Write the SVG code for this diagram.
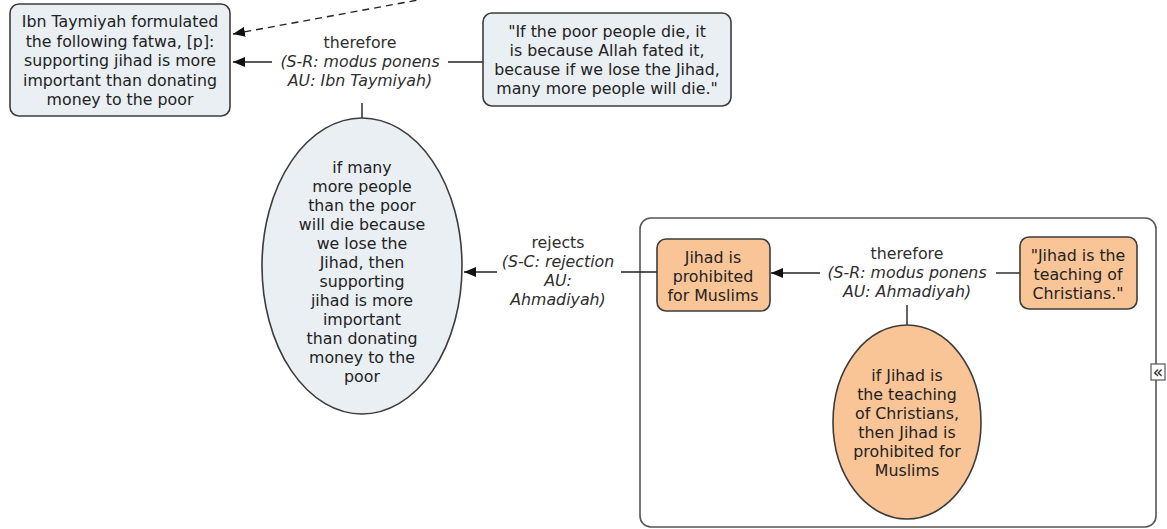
<svg xmlns="http://www.w3.org/2000/svg" width="1167" height="529" viewBox="0 0 1167 529">
  <style>
    text { font-family: "DejaVu Sans", Verdana, sans-serif; font-size: 15.8px; fill: #222222; text-anchor: middle; }
    .lbl { fill: #2e2e2e; }
    .it { font-style: italic; }
    .blue { fill: #e9eff3; stroke: #3c3c3c; stroke-width: 1.6; }
    .orange { fill: #f9c597; stroke: #3c3c3c; stroke-width: 1.6; }
    .frame { fill: #ffffff; stroke: #555555; stroke-width: 1.6; }
    .link { fill: none; stroke: #222222; stroke-width: 1.4; }
    .dash { stroke-dasharray: 7 5; }
  </style>
  <defs>
    <marker id="head" viewBox="0 0 12 10" refX="12" refY="5" markerWidth="12" markerHeight="10" markerUnits="userSpaceOnUse" orient="auto">
      <path d="M0,0 L12,5 L0,10 Z" fill="#111111"/>
    </marker>
  </defs>

  <rect width="1167" height="529" fill="#ffffff"/>

  <!-- group container -->
  <g id="group-ahmadiyah">
    <rect class="frame" x="640" y="218" width="516" height="309" rx="11"/>
    <rect x="1151" y="364" width="14" height="16" fill="#ffffff" stroke="#555555" stroke-width="1.2"/>
    <text x="1158" y="378" style="font-size:17px; fill:#222222">«</text>
  </g>

  <!-- connectors -->
  <g id="connectors">
    <line class="link dash" x1="440" y1="-4" x2="233" y2="34" marker-end="url(#head)"/>
    <line class="link" x1="272" y1="62" x2="233" y2="62" marker-end="url(#head)"/>
    <line class="link" x1="448" y1="62" x2="483" y2="62"/>
    <line class="link" x1="362" y1="103" x2="362" y2="118"/>
    <line class="link" x1="497" y1="272" x2="464" y2="272" marker-end="url(#head)"/>
    <line class="link" x1="621" y1="272" x2="657" y2="272"/>
    <line class="link" x1="820" y1="273" x2="771" y2="273" marker-end="url(#head)"/>
    <line class="link" x1="996" y1="273" x2="1020" y2="273"/>
    <line class="link" x1="907" y1="305" x2="907" y2="325"/>
  </g>

  <!-- connector labels -->
  <g id="label-therefore-1">
    <text class="lbl" x="360" y="48">therefore</text>
    <text class="lbl it" x="360" y="67">(S-R: modus ponens</text>
    <text class="lbl it" x="360" y="86">AU: Ibn Taymiyah)</text>
  </g>
  <g id="label-rejects">
    <text class="lbl" x="558" y="248">rejects</text>
    <text class="lbl it" x="558" y="267">(S-C: rejection</text>
    <text class="lbl it" x="558" y="286">AU:</text>
    <text class="lbl it" x="558" y="305">Ahmadiyah)</text>
  </g>
  <g id="label-therefore-2">
    <text class="lbl" x="907" y="259">therefore</text>
    <text class="lbl it" x="907" y="278">(S-R: modus ponens</text>
    <text class="lbl it" x="907" y="297">AU: Ahmadiyah)</text>
  </g>

  <!-- nodes -->
  <g id="node-fatwa">
    <rect class="blue" x="10" y="4" width="220" height="112" rx="9"/>
    <text x="120" y="27">Ibn Taymiyah formulated</text>
    <text x="120" y="46.5">the following fatwa, [p]:</text>
    <text x="120" y="66">supporting jihad is more</text>
    <text x="120" y="85.5">important than donating</text>
    <text x="120" y="105">money to the poor</text>
  </g>

  <g id="node-quote-poor">
    <rect class="blue" x="483" y="13" width="248" height="93" rx="9"/>
    <text x="607" y="37">"If the poor people die, it</text>
    <text x="607" y="56">is because Allah fated it,</text>
    <text x="607" y="75">because if we lose the Jihad,</text>
    <text x="607" y="94">many more people will die."</text>
  </g>

  <g id="node-premise-poor">
    <ellipse class="blue" cx="362" cy="266" rx="100" ry="148"/>
    <text x="362" y="173">if many</text>
    <text x="362" y="192">more people</text>
    <text x="362" y="211">than the poor</text>
    <text x="362" y="230">will die because</text>
    <text x="362" y="249">we lose the</text>
    <text x="362" y="268">Jihad, then</text>
    <text x="362" y="287">supporting</text>
    <text x="362" y="306">jihad is more</text>
    <text x="362" y="325">important</text>
    <text x="362" y="344">than donating</text>
    <text x="362" y="363">money to the</text>
    <text x="362" y="382">poor</text>
  </g>

  <g id="node-prohibited">
    <rect class="orange" x="657" y="239" width="113" height="72" rx="9"/>
    <text x="713" y="263">Jihad is</text>
    <text x="713" y="282">prohibited</text>
    <text x="713" y="301">for Muslims</text>
  </g>

  <g id="node-quote-christians">
    <rect class="orange" x="1020" y="237" width="117" height="72" rx="9"/>
    <text x="1078" y="261">"Jihad is the</text>
    <text x="1078" y="280">teaching of</text>
    <text x="1078" y="299">Christians."</text>
  </g>

  <g id="node-premise-christians">
    <ellipse class="orange" cx="907" cy="422" rx="74" ry="97"/>
    <text x="907" y="381">if Jihad is</text>
    <text x="907" y="400">the teaching</text>
    <text x="907" y="419">of Christians,</text>
    <text x="907" y="438">then Jihad is</text>
    <text x="907" y="457">prohibited for</text>
    <text x="907" y="476">Muslims</text>
  </g>
</svg>
